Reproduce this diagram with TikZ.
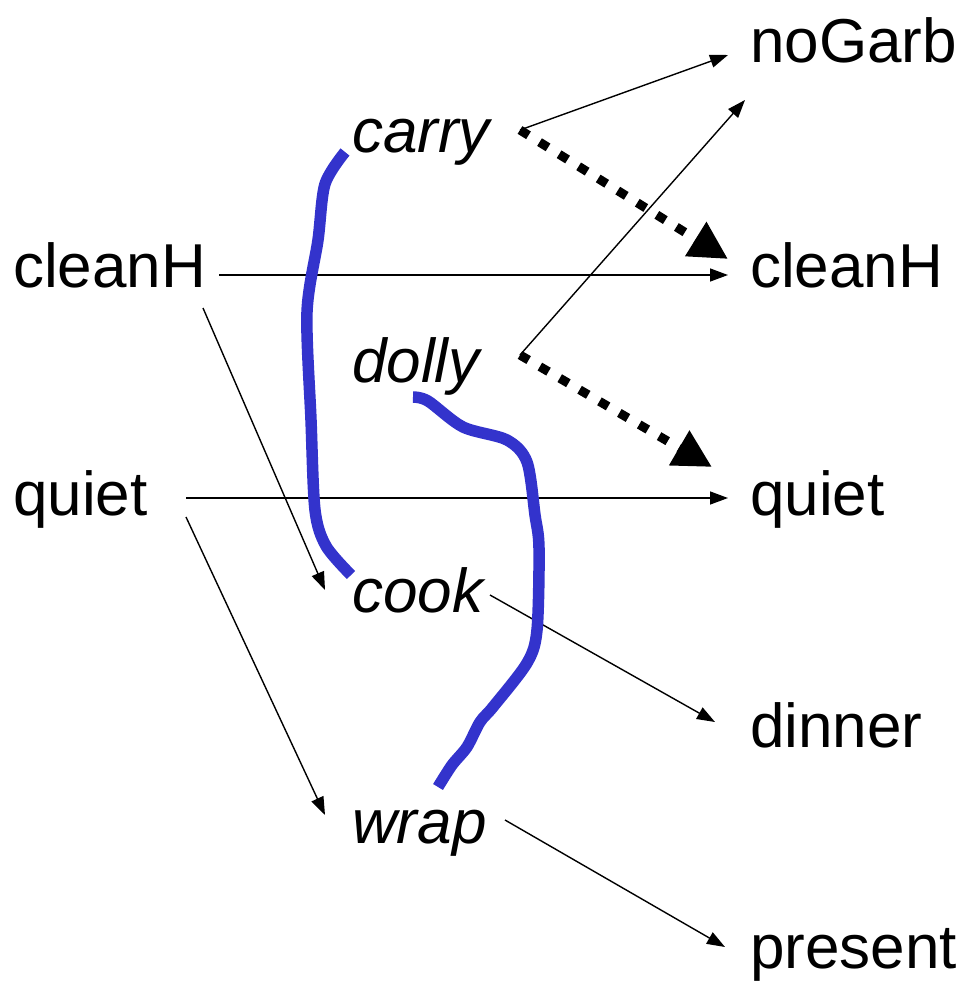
\documentclass[tikz,border=0pt]{standalone}
\usepackage{fontspec}
\setmainfont{Liberation Sans}
\usetikzlibrary{arrows.meta}
\definecolor{linkblue}{RGB}{51,51,204}
\begin{document}
\begin{tikzpicture}[x=1pt,y=-1pt,
  word/.style={inner sep=0pt,anchor=base west,font=\fontsize{62}{70}\selectfont},
  act/.style={word,font=\fontsize{62}{70}\selectfont\itshape},
  arr/.style={line width=1.4pt,-{Triangle[length=18pt,width=13pt]}},
  threat/.style={line width=9pt,dash pattern=on 10pt off 13pt,
    -{Triangle[length=38pt,width=38pt]}},
  causal/.style={linkblue,line width=11.5pt,line join=round}]
\useasboundingbox (0,0) rectangle (963,991);

% left column: initial conditions
\node[word] (cleanL) at (13,287) {cleanH};
\node[word] (quietL) at (13,515) {quiet};

% middle column: actions
\node[act] (carry) at (352,152) {carry};
\node[act] (dolly) at (352,382) {dolly};
\node[act] (cook)  at (352,612) {cook};
\node[act] (wrap)  at (352,843) {wrap};

% right column: goals
\node[word] (noGarb)  at (750,62)  {noGarb};
\node[word] (cleanR)  at (750,287) {cleanH};
\node[word] (quietR)  at (750,515) {quiet};
\node[word] (dinner)  at (750,747) {dinner};
\node[word] (present) at (750,968) {present};

% causal links
\draw[arr] ([shift={(206,-12)}]cleanL.base west) -- ([shift={(-22,-12)}]cleanR.base west);
\draw[arr] ([shift={(190,21)}]cleanL.base west) -- ([shift={(-27,-22)}]cook.base west);
\draw[arr] ([shift={(173,-17)}]quietL.base west) -- ([shift={(-22,-17)}]quietR.base west);
\draw[arr] ([shift={(173,2)}]quietL.base west) -- ([shift={(-27,-28)}]wrap.base west);
\draw[arr] ([shift={(168,-22)}]carry.base west) -- ([shift={(-22,-7)}]noGarb.base west);
\draw[arr] ([shift={(168,-27)}]dolly.base west) -- ([shift={(-5,38)}]noGarb.base west);
\draw[arr] ([shift={(138,-17)}]cook.base west) -- ([shift={(-35,-25)}]dinner.base west);
\draw[arr] ([shift={(153,-23)}]wrap.base west) -- ([shift={(-25,-21)}]present.base west);

% threatened conditions
\draw[threat] ([shift={(168,-22)}]carry.base west) -- ([shift={(-22,-28)}]cleanR.base west);
\draw[threat] ([shift={(168,-27)}]dolly.base west) -- ([shift={(-38,-48)}]quietR.base west);

% hand-drawn mutex strokes
\draw[causal] plot[smooth,tension=0.5] coordinates
  {(345,152) (325,184) (318,240) (307,312) (311,420) (315,510) (326,546) (351,575)};
\draw[causal] plot[smooth,tension=0.5] coordinates
  {(413,397) (428,401) (463,427) (507,440) (527,462) (535,515) (539,548)
   (537,630) (527,663) (493,707) (480,722) (467,747) (452,765) (438,787)};
\end{tikzpicture}
\end{document}
